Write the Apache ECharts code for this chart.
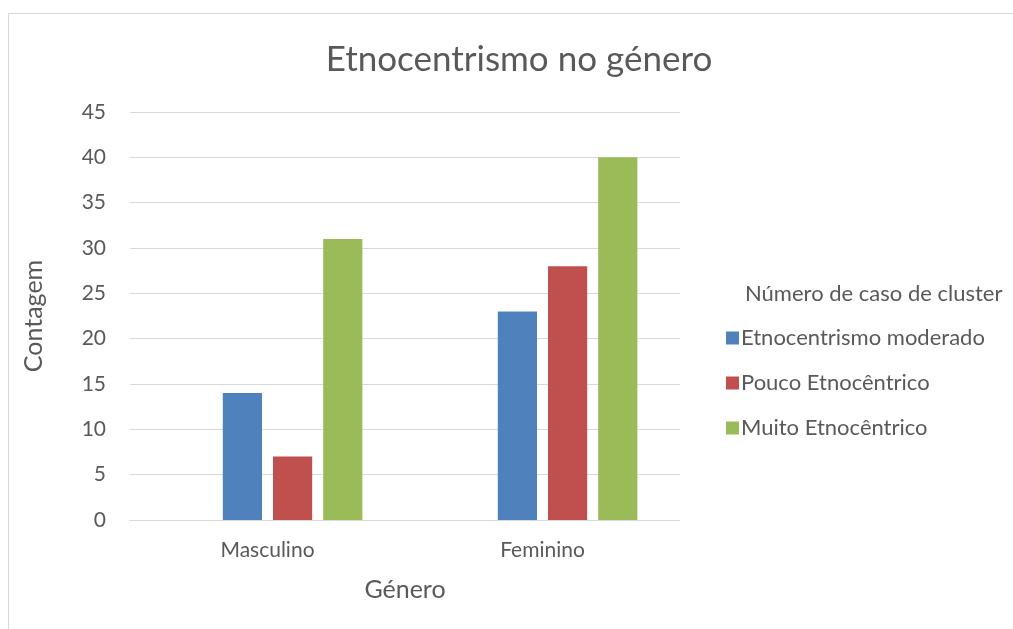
<!DOCTYPE html>
<html>
<head>
<meta charset="utf-8">
<script src="https://cdn.jsdelivr.net/npm/echarts@6/dist/echarts.min.js"></script>
<style>
  html, body { margin: 0; padding: 0; background: #fff; }
  #frame { position: absolute; left: 8px; top: 13px; width: 1100px; height: 700px; border: 1px solid #d9d9d9; box-sizing: border-box; }
  #chart { position: absolute; left: 0; top: 0; width: 1013px; height: 629px; }
</style>
</head>
<body>
<div id="frame"></div>
<div id="chart"></div>
<script>
const categories = ['Masculino', 'Feminino'];
const seriesNames = ['Etnocentrismo moderado', 'Pouco Etnocêntrico', 'Muito Etnocêntrico'];
const moderado = [14, 23];
const pouco = [7, 28];
const muito = [31, 40];
// empty first slot of each cluster (no values in this series)
const semValor = [null, null];
const colors = ['#4F81BD', '#C0504D', '#9BBB59'];

const font = 'Lato, "Open Sans", sans-serif';
const chart = echarts.init(document.getElementById('chart'));

const barStyle = { barCategoryGap: '31%', barGap: '28%' };

chart.setOption({
  animation: false,
  textStyle: { fontFamily: font },
  title: [
    {
      text: 'Etnocentrismo no género',
      left: 514, top: 37, textAlign: 'center',
      textStyle: { fontFamily: font, fontSize: 35, fontWeight: 'normal', color: '#595959' }
    },
    {
      text: 'Número de caso de cluster',
      left: 740, top: 278,
      textStyle: { fontFamily: font, fontSize: 22, fontWeight: 'normal', color: '#595959' }
    }
  ],
  legend: {
    data: seriesNames,
    orient: 'vertical',
    left: 721, top: 322,
    itemWidth: 13, itemHeight: 13, itemGap: 23,
    icon: 'rect',
    textStyle: { fontFamily: font, fontSize: 22, color: '#595959', padding: [0, 0, 0, -3] }
  },
  grid: { left: 130, right: 333, top: 112, bottom: 109, containLabel: false },
  xAxis: {
    type: 'category',
    data: categories,
    name: 'Género',
    nameLocation: 'middle',
    nameGap: 57,
    nameTextStyle: { fontFamily: font, fontSize: 25, color: '#595959' },
    axisLine: { lineStyle: { color: '#d9d9d9', width: 1 } },
    axisTick: { show: false },
    axisLabel: { fontFamily: font, fontSize: 21, color: '#595959', margin: 20 }
  },
  yAxis: {
    type: 'value',
    min: 0, max: 45, interval: 5,
    name: 'Contagem',
    nameLocation: 'middle',
    nameGap: 84,
    nameTextStyle: { fontFamily: font, fontSize: 25, color: '#595959' },
    axisLine: { show: false },
    axisTick: { show: false },
    axisLabel: { fontFamily: font, fontSize: 21, color: '#595959', margin: 24 },
    splitLine: { lineStyle: { color: '#d9d9d9', width: 1 } }
  },
  series: [
    Object.assign({ type: 'bar', name: '', data: semValor, silent: true }, barStyle),
    Object.assign({ type: 'bar', name: seriesNames[0], data: moderado, itemStyle: { color: colors[0] } }, barStyle),
    Object.assign({ type: 'bar', name: seriesNames[1], data: pouco, itemStyle: { color: colors[1] } }, barStyle),
    Object.assign({ type: 'bar', name: seriesNames[2], data: muito, itemStyle: { color: colors[2] } }, barStyle)
  ]
});
</script>
</body>
</html>
